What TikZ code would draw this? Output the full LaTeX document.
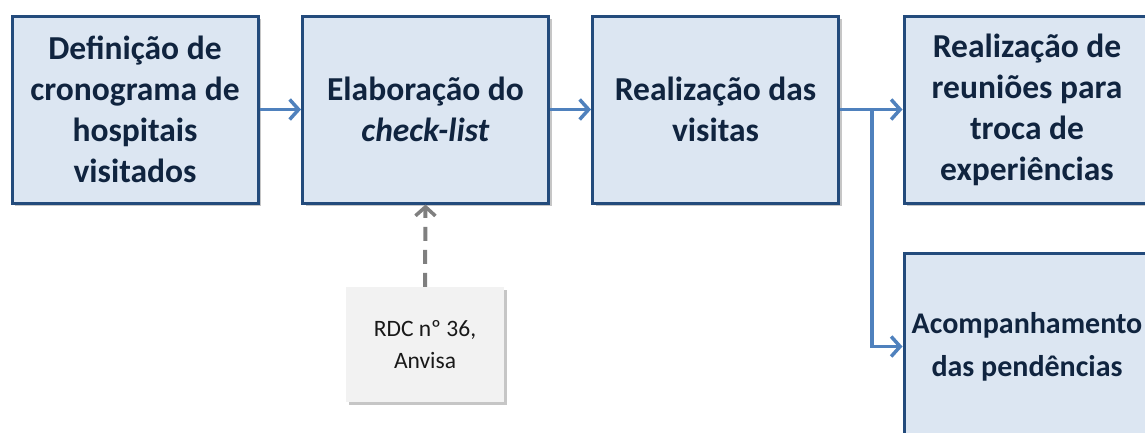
\documentclass[tikz,border=0pt]{standalone}
\usepackage{fontspec}
\setmainfont{Carlito}
\usetikzlibrary{arrows.meta,shadows}
\definecolor{boxfill}{HTML}{DCE6F2}
\definecolor{boxdraw}{HTML}{234B7C}
\definecolor{boxtext}{HTML}{10243F}
\definecolor{arrowblue}{HTML}{4F81BD}
\definecolor{notefill}{HTML}{F2F2F2}
\definecolor{dashgray}{HTML}{7F7F7F}
\tikzset{
  proc/.style={draw=boxdraw, line width=3pt, fill=boxfill, inner xsep=2pt,
    minimum width=246pt, minimum height=187pt, align=center,
    font=\bfseries\fontsize{33.5}{41}\selectfont, text=boxtext,
    drop shadow={shadow xshift=3pt, shadow yshift=-3pt, opacity=0.45}},
  note/.style={fill=notefill, minimum width=158pt, minimum height=115pt,
    align=center, font=\fontsize{23.5}{32}\selectfont, text=black!90,
    drop shadow={shadow xshift=3pt, shadow yshift=-3pt, opacity=0.45}},
  arr/.style={draw=arrowblue, line width=3.5pt,
    -{Straight Barb[length=9pt,width=20pt,line width=3.5pt]}},
  dasharr/.style={draw=dashgray, line width=4pt, dash pattern=on 14pt off 9pt,
    -{Straight Barb[length=9pt,width=20pt,line width=3.5pt]}}
}
\begin{document}
\begin{tikzpicture}[x=1pt,y=-1pt]
\useasboundingbox (0,0) rectangle (1145,432);
\clip (0,0) rectangle (1145,432);
\node[proc] (b1) at (135,109.5) {Definição de\\cronograma de\\hospitais\\visitados};
\node[proc] (b2) at (425.5,109.5) {Elaboração do\\\textit{check-list}};
\node[proc] (b3) at (715.5,109.5) {Realização das\\visitas};
\node[proc] (b4) at (1027,109.5) {Realização de\\reuniões para\\troca de\\experiências};
\node[proc, font=\bfseries\fontsize{30}{43}\selectfont] (b5) at (1027,346.5) {Acompanhamento\\das pendências};
\node[note] (n) at (425,344.5) {RDC nº 36,\\Anvisa};
\coordinate (br) at (872,109.5);
\draw[arr] (b1.east) -- (b2.west);
\draw[arr] (b2.east) -- (b3.west);
\draw[arr] (b3.east) -- (b4.west);
\draw[arr] (br) |- (b5.west);
\draw[dasharr] (n.north) -- (b2.south);
\end{tikzpicture}
\end{document}
